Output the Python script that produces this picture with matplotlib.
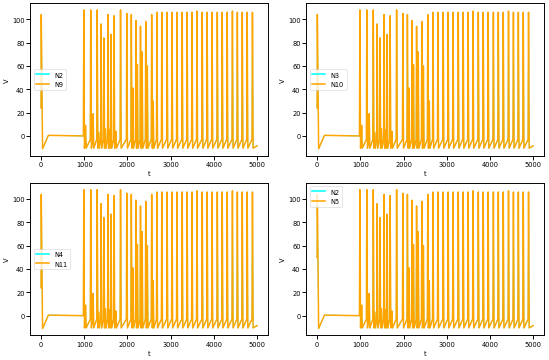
import matplotlib
matplotlib.use('Agg')
import matplotlib.pyplot as plt

plt.rcParams['font.size'] = 11
plt.rcParams['axes.linewidth'] = 1.6
plt.rcParams['xtick.major.width'] = 1.6
plt.rcParams['ytick.major.width'] = 1.6
plt.rcParams['xtick.major.size'] = 6
plt.rcParams['ytick.major.size'] = 6

# start of each trace: time, voltage (before the input arrives at t=1000)
start_t = [0, 5, 35, 170, 980]
start_v = [24, 104, -11, 0.5, 0]
start_v_n5 = [50, 104, -11, 0.5, 0]

# spike times and peak voltages
spike_t = [990, 1030, 1150, 1205, 1300, 1335, 1390, 1455, 1490, 1550, 1585,
           1620, 1690, 1730, 1840, 1985, 2090, 2125, 2196, 2230, 2302, 2340,
           2424, 2460, 2561, 2595,
           2682, 2796, 2918, 3032, 3146, 3267, 3381, 3495, 3609, 3731,
           3845, 3959, 4080, 4194, 4309, 4430, 4544, 4658, 4772, 4894]
spike_v = [108, 9, 108, 19, 108, 3, 96, 84, 6, 104, 5,
           87, 103, 4, 108, 105, 104, 41, 99, 61, 94, 72,
           98, 60, 104, 30,
           106, 106, 106, 106, 106, 106, 106, 106, 107, 106,
           106, 106, 106, 106, 106, 107, 106, 106, 106, 106]
end_t, end_v = 5000, -8.5

pairs = [('N2', 'N9'), ('N3', 'N10'), ('N4', 'N11'), ('N2', 'N5')]
legend_loc = ['center left', 'center left', 'center left', 'upper left']


def build_trace(v0):
    t, v = list(start_t), list(v0)
    for st, sv in zip(spike_t, spike_v):
        if st - 10 > t[-1] + 5:
            t.append(st - 10)
            v.append(-3 if t[-1] > 1000 else 0)
        t.append(st)
        v.append(sv)
        t.append(st + 15)
        v.append(-10.5)
    t.append(end_t)
    v.append(end_v)
    return t, v


fig, axes = plt.subplots(2, 2, figsize=(12.79, 8.395), dpi=43)
fig.subplots_adjust(left=0.055, right=0.989, top=0.989, bottom=0.068,
                    wspace=0.162, hspace=0.177)

for i, x in enumerate(axes.flat):
    a, b = pairs[i]
    tt, vv = build_trace(start_v_n5 if i == 3 else start_v)
    x.plot(tt, vv, color='cyan', lw=1.4, label=a)
    x.plot(tt, vv, color='orange', lw=2.5, label=b)
    x.set_xlabel('t')
    x.set_ylabel('V')
    x.set_xticks([0, 1000, 2000, 3000, 4000, 5000])
    x.set_yticks([0, 20, 40, 60, 80, 100])
    leg = x.legend(loc=legend_loc[i])
    for lh in leg.get_lines():
        lh.set_linewidth(2.6)

plt.savefig('out.png', dpi=43)
